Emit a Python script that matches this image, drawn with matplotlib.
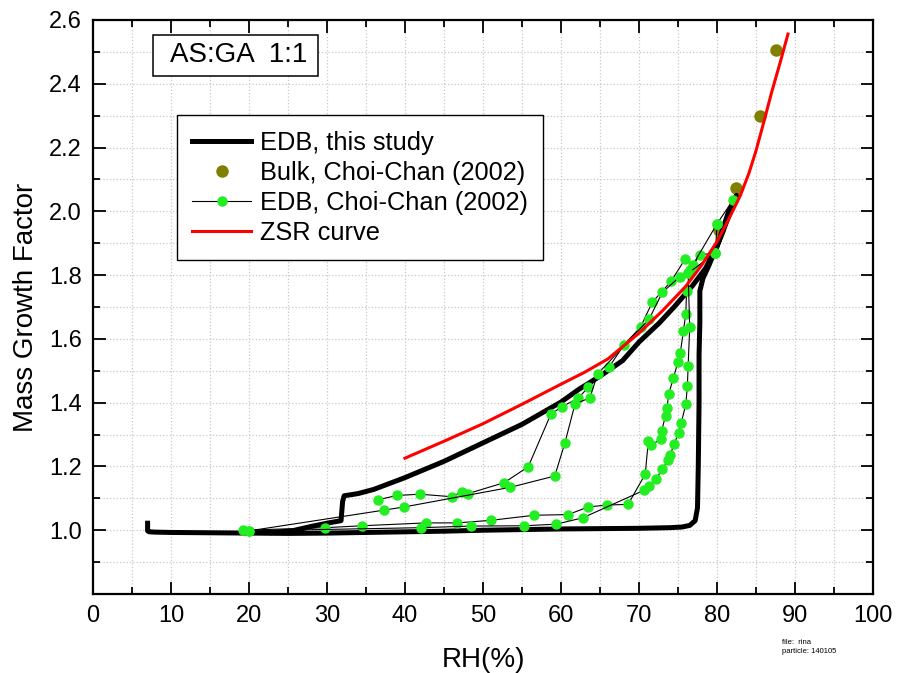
import matplotlib
matplotlib.use("Agg")
import matplotlib.pyplot as plt
from matplotlib.patches import Rectangle
from matplotlib.ticker import MultipleLocator, FuncFormatter

plt.rcParams["font.family"] = ["Liberation Sans", "DejaVu Sans"]

# EDB, this study (one humidity cycle, continuous trace)
edb_rh = [7.0, 7.0, 7.2, 8.0, 10.0, 15.0, 20.0, 25.0, 30.0, 35.0, 40.0, 45.0,
          50.0, 55.0, 60.0, 65.0, 70.0, 74.0, 75.5, 76.5, 77.2, 77.5, 77.6,
          77.7, 77.7, 77.8, 77.8, 78.2, 78.9, 80.5, 82.5, 81.5, 80.0, 78.5,
          76.8, 74.5, 72.6, 70.0, 67.9, 65.0, 62.3, 60.0, 55.0, 50.0, 45.0,
          40.0, 36.0, 34.0, 32.2, 32.0, 31.8, 30.0, 28.0, 25.5, 23.0]
edb_mgf = [1.022, 0.998, 0.995, 0.994, 0.993, 0.992, 0.991, 0.990, 0.991,
           0.993, 0.995, 0.997, 1.000, 1.002, 1.004, 1.005, 1.006, 1.008,
           1.010, 1.015, 1.030, 1.070, 1.200, 1.400, 1.550, 1.650, 1.750,
           1.790, 1.827, 1.920, 2.050, 2.000, 1.890, 1.820, 1.765, 1.700,
           1.650, 1.590, 1.532, 1.483, 1.442, 1.402, 1.332, 1.274, 1.216,
           1.165, 1.128, 1.115, 1.108, 1.090, 1.030, 1.022, 1.012, 0.998,
           0.993]

# Bulk, Choi-Chan (2002)
bulk_rh = [80.3, 82.4, 85.5, 87.6]
bulk_mgf = [1.94, 2.073, 2.30, 2.506]

# EDB, Choi-Chan (2002): several humidity runs
cc_a_rh = [19.2, 29.8, 34.5, 42.7, 46.7, 51.0, 56.6, 60.9, 63.5, 65.9, 68.6,
           70.8, 71.2, 71.5, 72.8, 72.9, 73.4, 73.6, 73.8, 74.4, 75.0, 75.3,
           75.7, 76.0, 76.1, 76.6, 77.8, 79.8, 80.0, 82.1]
cc_a_mgf = [1.000, 1.008, 1.014, 1.023, 1.023, 1.031, 1.047, 1.049, 1.073,
            1.079, 1.081, 1.176, 1.281, 1.267, 1.285, 1.311, 1.359, 1.382,
            1.427, 1.476, 1.529, 1.557, 1.626, 1.679, 1.751, 1.817, 1.864,
            1.869, 1.961, 2.037]
cc_b_rh = [20.0, 42.1, 48.5, 55.3, 59.4, 62.8, 70.7, 71.3, 72.2, 73.0, 73.7,
           74.0, 74.5, 75.1, 75.4, 76.0, 76.2, 76.3, 76.5, 76.3, 79.8]
cc_b_mgf = [0.998, 1.008, 1.013, 1.014, 1.019, 1.039, 1.126, 1.138, 1.162,
            1.191, 1.220, 1.236, 1.270, 1.306, 1.335, 1.395, 1.452, 1.515,
            1.637, 1.806, 1.869]
cc_c_rh = [36.6, 39.0, 41.9, 46.0, 47.3, 48.1, 52.7, 55.8, 58.7, 60.1, 62.2,
           63.5, 66.2, 68.1, 70.2, 71.7, 74.1, 75.9, 76.9, 80.0]
cc_c_mgf = [1.096, 1.109, 1.113, 1.105, 1.120, 1.115, 1.149, 1.199, 1.364,
            1.387, 1.414, 1.448, 1.513, 1.582, 1.637, 1.715, 1.780, 1.850,
            1.832, 1.961]
cc_d_rh = [20.0, 37.3, 39.9, 53.4, 59.2, 60.5, 61.8, 63.7, 64.7, 71.3, 73.0,
           75.2, 76.3, 79.8]
cc_d_mgf = [0.998, 1.063, 1.073, 1.134, 1.170, 1.274, 1.396, 1.415, 1.490,
            1.662, 1.746, 1.794, 1.806, 1.869]
cc_runs = [(cc_a_rh, cc_a_mgf), (cc_b_rh, cc_b_mgf),
           (cc_c_rh, cc_c_mgf), (cc_d_rh, cc_d_mgf)]

# ZSR curve
zsr_rh = [40, 45, 50, 55, 60, 63, 66, 70, 73, 76, 78, 80, 81.5, 83, 84.1,
          85, 86, 87, 88.1, 89.1]
zsr_mgf = [1.226, 1.279, 1.334, 1.395, 1.458, 1.495, 1.537, 1.618, 1.688,
           1.765, 1.830, 1.905, 1.975, 2.050, 2.120, 2.190, 2.280, 2.373,
           2.467, 2.556]

fig = plt.figure(figsize=(8.99, 6.73), dpi=100)
ax = fig.add_axes([93 / 899, 1 - 594 / 673, 780 / 899, 574 / 673])

ax.plot(bulk_rh, bulk_mgf, "o", color="#808000", ms=9, mec="none", zorder=2,
        label="Bulk, Choi-Chan (2002)")
ax.plot(edb_rh, edb_mgf, color="black", lw=3.6, solid_joinstyle="round",
        zorder=3, label="EDB, this study")
for i, (rh, mgf) in enumerate(cc_runs):
    ax.plot(rh, mgf, "-o", color="black", lw=0.8, mfc="#22ee22", mec="#22ee22",
            ms=6.5, zorder=4, label="EDB, Choi-Chan (2002)" if i == 0 else None)
ax.plot(zsr_rh, zsr_mgf, color="#ff0000", lw=2.2, zorder=5, label="ZSR curve")

ax.set_xlim(0, 100)
ax.set_ylim(0.8, 2.6)
ax.xaxis.set_major_locator(MultipleLocator(10))
ax.xaxis.set_minor_locator(MultipleLocator(5))
ax.yaxis.set_major_locator(MultipleLocator(0.2))
ax.yaxis.set_minor_locator(MultipleLocator(0.1))
ax.yaxis.set_major_formatter(
    FuncFormatter(lambda v, p: "" if v < 0.9 else f"{v:.1f}"))
ax.grid(True, which="both", linestyle=":", color="#c8c8c8", lw=0.9)
ax.set_axisbelow(True)
ax.tick_params(which="both", direction="in", top=True, right=True,
               labelsize=17, width=1.3, pad=8)
ax.tick_params(which="major", length=9)
ax.tick_params(which="minor", length=5)
for s in ax.spines.values():
    s.set_linewidth(1.6)

ax.set_xlabel("RH(%)", fontsize=20, labelpad=14)
ax.set_ylabel("Mass Growth Factor", fontsize=20, labelpad=7)

# sample label box
ax.add_patch(Rectangle((7.7, 2.425), 21.15, 0.129, fc="white", ec="black",
                       lw=1.1, zorder=6))
ax.text(18.65, 2.489, "AS:GA  1:1", fontsize=20, ha="center", va="center",
        zorder=7)

handles, labels = ax.get_legend_handles_labels()
order = [labels.index(n) for n in ["EDB, this study", "Bulk, Choi-Chan (2002)",
                                   "EDB, Choi-Chan (2002)", "ZSR curve"]]
leg = ax.legend([handles[k] for k in order], [labels[k] for k in order],
                loc="upper left", bbox_to_anchor=(0.108, 0.834),
                borderaxespad=0, fontsize=18.3, labelspacing=0.24,
                borderpad=0.6, handlelength=2.3, handletextpad=0.35,
                fancybox=False, framealpha=1, edgecolor="black")
leg.get_frame().set_linewidth(1.0)
leg.set_zorder(8)

fig.text(782 / 899, 1 - 647 / 673, "file:  rina\nparticle: 140105",
         fontsize=5.5, va="center", ha="left", linespacing=1.4)

fig.savefig("out.png", dpi=100, facecolor="white")
